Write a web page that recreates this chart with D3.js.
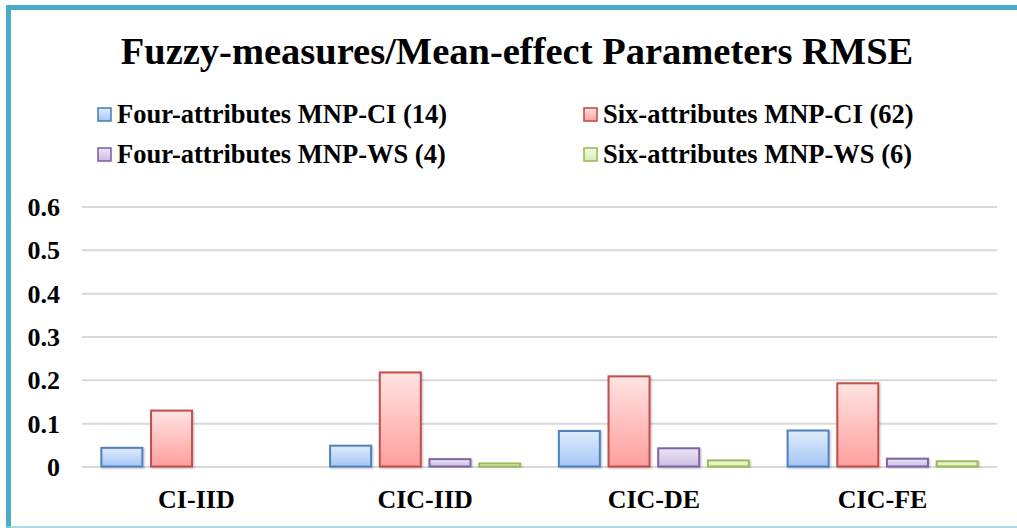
<!DOCTYPE html>
<html><head><meta charset="utf-8">
<script src="https://cdn.jsdelivr.net/npm/d3@7"></script>
<style>
html,body{margin:0;padding:0;background:#fff;}
svg{display:block;}
text{font-family:"Liberation Serif","Times New Roman",serif;font-weight:bold;fill:#000;}
</style></head><body>
<svg id="c" width="1017" height="528"></svg>
<script>
const categories = ["CI-IID", "CIC-IID", "CIC-DE", "CIC-FE"];
const seriesNames = ["Four-attributes MNP-CI (14)", "Six-attributes MNP-CI (62)", "Four-attributes MNP-WS (4)", "Six-attributes MNP-WS (6)"];
const fourCI = [0.043, 0.048, 0.082, 0.083];
const sixCI  = [0.129, 0.217, 0.208, 0.192];
const fourWS = [null, 0.017, 0.042, 0.018];
const sixWS  = [null, 0.007, 0.014, 0.012];
const yTicks = [0, 0.1, 0.2, 0.3, 0.4, 0.5, 0.6];
const title = "Fuzzy-measures/Mean-effect Parameters RMSE";

const seriesValues = [fourCI, sixCI, fourWS, sixWS];
const styles = [
  {stroke:"#4f81bd", top:"#e0ecfc", bot:"#a5c5f6"},
  {stroke:"#c0504d", top:"#ffe3e3", bot:"#ff9f9d"},
  {stroke:"#8064a2", top:"#ece6f5", bot:"#cbbce4"},
  {stroke:"#9bbb59", top:"#f4fbe6", bot:"#d4efaa"}
];

const svg = d3.select("#c");
const defs = svg.append("defs");
styles.forEach((s,i)=>{
  const g = defs.append("linearGradient").attr("id","g"+i).attr("x1",0).attr("y1",0).attr("x2",0).attr("y2",1);
  g.append("stop").attr("offset","0%").attr("stop-color",s.top);
  g.append("stop").attr("offset","100%").attr("stop-color",s.bot);
});
const f = defs.append("filter").attr("id","sh").attr("x","-20%").attr("y","-20%").attr("width","140%").attr("height","140%");
f.append("feDropShadow").attr("dx",1).attr("dy",1).attr("stdDeviation",1).attr("flood-color","#000").attr("flood-opacity",0.25);

// frame
svg.append("line").attr("x1",6).attr("x2",1017).attr("y1",7.5).attr("y2",7.5).attr("stroke","#4bacc6").attr("stroke-width",5);
svg.append("line").attr("x1",8.5).attr("x2",8.5).attr("y1",5).attr("y2",528).attr("stroke","#4bacc6").attr("stroke-width",5);
svg.append("line").attr("x1",6).attr("x2",1017).attr("y1",527).attr("y2",527).attr("stroke","#8ccfe0").attr("stroke-width",1.5);

// title
svg.append("text").attr("x",517).attr("y",64).attr("text-anchor","middle").style("font-size","38.5px").text(title);

// legend
const legPos = [[97,115],[583,115],[97,155],[583,155]];
seriesNames.forEach((n,i)=>{
  const [lx,ly] = legPos[i];
  svg.append("rect").attr("x",lx+1).attr("y",ly-7).attr("width",13).attr("height",13)
    .attr("fill","url(#g"+i+")").attr("stroke",styles[i].stroke).attr("stroke-width",1.6);
  svg.append("text").attr("x",lx+20).attr("y",ly+8).style("font-size","26.5px").text(n);
});

const x0 = d3.scaleBand().domain(categories).range([82, 997]);
const x1 = d3.scaleBand().domain(d3.range(4)).range([0, x0.bandwidth()]).paddingInner(0.175).paddingOuter(0.39);
const y = d3.scaleLinear().domain([0, 0.6]).range([466.5, 206.5]);

// grid
const yAxis = d3.axisLeft(y).tickValues(yTicks).tickSize(-(997-82)).tickPadding(22).tickFormat(d=>d===0?"0":d3.format(".1f")(d));
const ga = svg.append("g").attr("transform","translate(82,0)").call(yAxis);
ga.select(".domain").remove();
ga.selectAll(".tick line").attr("stroke","#d9d9d9").attr("stroke-width",2);
ga.selectAll(".tick text").style("font-size","26px").attr("dy","0.35em").attr("fill","#000");

// bars
const g = svg.append("g");
categories.forEach((c,ci)=>{
  seriesValues.forEach((vals,si)=>{
    const v = vals[ci];
    if (v == null) return;
    g.append("rect")
      .attr("x", x0(c) + x1(si))
      .attr("y", y(v))
      .attr("width", x1.bandwidth())
      .attr("height", y(0) - y(v))
      .attr("fill","url(#g"+si+")")
      .attr("stroke", styles[si].stroke)
      .attr("stroke-width", 2)
      .attr("filter","url(#sh)");
  });
});

// x axis labels
const xAxis = d3.axisBottom(x0).tickSize(0).tickPadding(23);
const gx = svg.append("g").attr("transform","translate(0,466.5)").call(xAxis);
gx.select(".domain").remove();
gx.selectAll(".tick text").style("font-size","26px").attr("fill","#000");
</script>
</body></html>
